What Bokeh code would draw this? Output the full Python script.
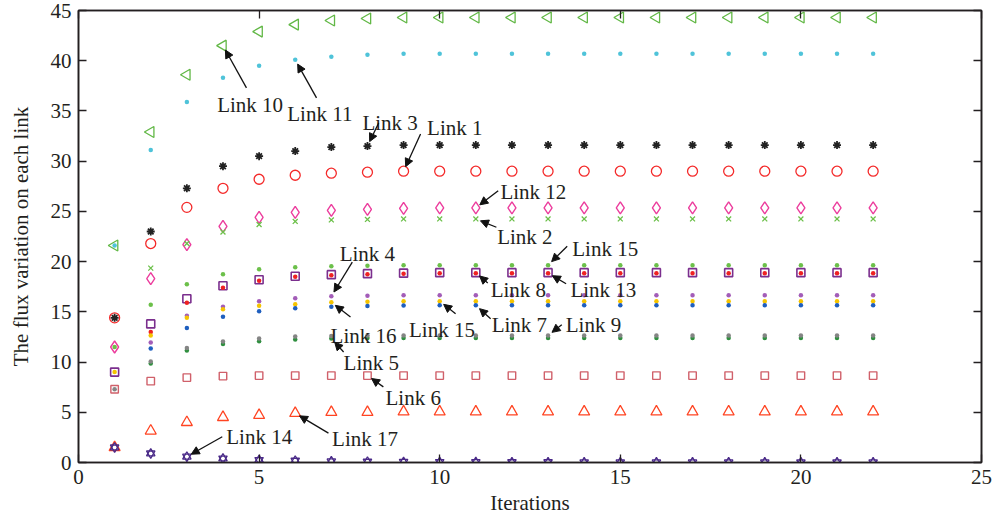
import math
from bokeh.plotting import figure
from bokeh.models import Range1d, LinearAxis, FixedTicker, ColumnDataSource, Arrow, NormalHead
from bokeh.core.properties import value
from bokeh.embed import file_html
from bokeh.resources import INLINE

nan = float("nan")

# ---------------- data ----------------
iterations = list(range(1, 23))
x_ticks = [0, 5, 10, 15, 20, 25]
y_ticks = [0, 5, 10, 15, 20, 25, 30, 35, 40, 45]

link1 = [14.4, 21.8, 25.4, 27.3, 28.2, 28.6, 28.8, 28.9, 29.0, 29.0, 29.0, 29.0, 29.0, 29.0, 29.0, 29.0, 29.0, 29.0, 29.0, 29.0, 29.0, 29.0]
link2 = [nan, 19.35, 21.8, 22.95, 23.7, 24.0, 24.15, 24.2, 24.25, 24.25, 24.25, 24.25, 24.25, 24.25, 24.25, 24.25, 24.25, 24.25, 24.25, 24.25, 24.25, 24.25]
link3 = [14.4, 23.0, 27.3, 29.5, 30.5, 31.0, 31.4, 31.5, 31.6, 31.6, 31.6, 31.6, 31.6, 31.6, 31.6, 31.6, 31.6, 31.6, 31.6, 31.6, 31.6, 31.6]
link4 = [nan, 11.95, 14.6, 15.5, 16.05, 16.35, 16.55, 16.6, 16.65, 16.65, 16.65, 16.65, 16.65, 16.65, 16.65, 16.65, 16.65, 16.65, 16.65, 16.65, 16.65, 16.65]
link5 = [nan, 9.85, 11.15, 11.8, 12.07, 12.25, 12.35, 12.4, 12.4, 12.4, 12.4, 12.4, 12.4, 12.4, 12.4, 12.4, 12.4, 12.4, 12.4, 12.4, 12.4, 12.4]
link6 = [7.3, 8.1, 8.45, 8.6, 8.65, 8.65, 8.65, 8.65, 8.65, 8.65, 8.65, 8.65, 8.65, 8.65, 8.65, 8.65, 8.65, 8.65, 8.65, 8.65, 8.65, 8.65]
link7 = [nan, 11.35, 13.4, 14.5, 15.05, 15.35, 15.5, 15.57, 15.62, 15.65, 15.65, 15.65, 15.65, 15.65, 15.65, 15.65, 15.65, 15.65, 15.65, 15.65, 15.65, 15.65]
link8 = [9.0, 13.8, 16.3, 17.6, 18.2, 18.55, 18.7, 18.8, 18.85, 18.9, 18.9, 18.9, 18.9, 18.9, 18.9, 18.9, 18.9, 18.9, 18.9, 18.9, 18.9, 18.9]
link9 = [7.3, 10.05, 11.4, 12.05, 12.35, 12.55, 12.6, 12.65, 12.65, 12.65, 12.65, 12.65, 12.65, 12.65, 12.65, 12.65, 12.65, 12.65, 12.65, 12.65, 12.65, 12.65]
link10 = [21.6, 32.9, 38.6, 41.5, 42.9, 43.6, 44.0, 44.2, 44.3, 44.3, 44.3, 44.3, 44.3, 44.3, 44.3, 44.3, 44.3, 44.3, 44.3, 44.3, 44.3, 44.3]
link11 = [21.6, 31.1, 35.9, 38.3, 39.5, 40.1, 40.4, 40.6, 40.7, 40.7, 40.7, 40.7, 40.7, 40.7, 40.7, 40.7, 40.7, 40.7, 40.7, 40.7, 40.7, 40.7]
link12 = [11.5, 18.3, 21.7, 23.5, 24.4, 24.9, 25.1, 25.2, 25.3, 25.35, 25.35, 25.35, 25.35, 25.35, 25.35, 25.35, 25.35, 25.35, 25.35, 25.35, 25.35, 25.35]
link13 = [nan, 13.0, 15.9, 17.4, 18.1, 18.5, 18.65, 18.75, 18.8, 18.85, 18.85, 18.85, 18.85, 18.85, 18.85, 18.85, 18.85, 18.85, 18.85, 18.85, 18.85, 18.85]
link14 = [1.5, 0.9, 0.58, 0.4, 0.25, 0.18, 0.12, 0.08, 0.06, 0.05, 0.04, 0.03, 0.03, 0.02, 0.02, 0.02, 0.02, 0.02, 0.02, 0.02, 0.02, 0.02]
link15 = [11.5, 15.7, 17.75, 18.75, 19.25, 19.45, 19.55, 19.6, 19.65, 19.65, 19.65, 19.65, 19.65, 19.65, 19.65, 19.65, 19.65, 19.65, 19.65, 19.65, 19.65, 19.65]
link16 = [9.0, 12.65, 14.4, 15.25, 15.6, 15.75, 15.95, 16.0, 16.05, 16.05, 16.05, 16.05, 16.05, 16.05, 16.05, 16.05, 16.05, 16.05, 16.05, 16.05, 16.05, 16.05]
link17 = [1.5, 3.15, 4.0, 4.5, 4.7, 4.9, 5.0, 5.0, 5.05, 5.05, 5.05, 5.05, 5.05, 5.05, 5.05, 5.05, 5.05, 5.05, 5.05, 5.05, 5.05, 5.05]

series = {
    "link1": link1, "link2": link2, "link3": link3, "link4": link4, "link5": link5,
    "link6": link6, "link7": link7, "link8": link8, "link9": link9, "link10": link10,
    "link11": link11, "link12": link12, "link13": link13, "link14": link14,
    "link15": link15, "link16": link16, "link17": link17,
}

# annotation labels: text, label anchor (data units), arrow tail (data units), target series, target iteration
ann_text = ["Link 10", "Link 11", "Link 3", "Link 1", "Link 12", "Link 2", "Link 15", "Link 8", "Link 13",
            "Link 15", "Link 7", "Link 9", "Link 4", "Link 16", "Link 5", "Link 6", "Link 17", "Link 14"]
ann_x = [3.84, 5.78, 7.86, 9.65, 11.68, 11.59, 13.67, 11.41, 13.62, 9.15, 11.44, 13.49, 7.23, 6.98, 7.34, 8.5, 7.02, 4.09]
ann_y = [35.6, 34.7, 33.8, 33.3, 26.9, 22.42, 21.3, 17.13, 17.13, 13.16, 13.65, 13.65, 20.77, 12.59, 9.91, 6.41, 2.3, 2.56]
tail_x = [4.65, 6.59, 8.31, 9.47, 11.62, 11.57, 13.53, 11.33, 13.5, 10.44, 11.41, 13.38, 7.58, 7.53, 7.34, 8.44, 6.92, 3.98]
tail_y = [37.3, 36.3, 33.8, 32.7, 27.06, 23.42, 21.53, 17.86, 17.8, 14.82, 14.32, 13.72, 19.94, 14.48, 11.0, 7.53, 2.93, 2.56]
ann_series = ["link10", "link11", "link3", "link1", "link12", "link2", "link15", "link8", "link13",
              "link16", "link7", "link9", "link4", "link16", "link5", "link6", "link17", "link14"]
ann_iter = [4, 6, 8, 9, 11, 11, 13, 11, 13, 10, 11, 13, 7, 7, 7, 8, 6, 3]

# ---------------- layout ----------------
W, H = 994, 522
B_LEFT, B_RIGHT, B_TOP, B_BOTTOM = 78, 13, 10, 60
INK = "#231f20"
SERIF = "Liberation Serif"

p = figure(width=W, height=H, x_range=Range1d(0, 25), y_range=Range1d(0, 45),
           output_backend="svg", toolbar_location=None,
           min_border_left=B_LEFT, min_border_right=B_RIGHT,
           min_border_top=B_TOP, min_border_bottom=B_BOTTOM,
           x_axis_label="Iterations", y_axis_label="The flux variation on each link")
p.xgrid.visible = False
p.ygrid.visible = False
p.outline_line_color = INK
p.outline_line_width = 1.5
p.background_fill_color = "white"
p.border_fill_color = "white"

bottom_ax = p.below[0]
left_ax = p.left[0]
right_ax = LinearAxis()
top_ax = LinearAxis()
p.add_layout(right_ax, "right")
p.add_layout(top_ax, "above")


def style_axis(ax, ticks, show_labels):
    ax.ticker = FixedTicker(ticks=ticks)
    ax.major_tick_in = 8
    ax.major_tick_out = 0
    ax.minor_tick_in = 0
    ax.minor_tick_out = 0
    ax.axis_line_color = INK
    ax.axis_line_width = 1.6
    ax.major_tick_line_color = INK
    ax.major_tick_line_width = 1.3
    ax.major_label_text_font = SERIF
    ax.major_label_text_color = INK
    ax.axis_label_text_font = SERIF
    ax.axis_label_text_font_style = "normal"
    ax.axis_label_text_font_size = "21px"
    ax.axis_label_text_color = INK
    if show_labels:
        ax.major_label_text_font_size = "21px"
        ax.major_label_standoff = 7
    else:
        ax.major_label_text_font_size = "1px"
        ax.major_label_text_alpha = 0
        ax.major_label_standoff = 0


style_axis(bottom_ax, x_ticks, True)
style_axis(left_ax, y_ticks, True)
style_axis(right_ax, y_ticks, False)
style_axis(top_ax, x_ticks, False)
bottom_ax.axis_label_standoff = 4
left_ax.axis_label_standoff = 15

src = ColumnDataSource(dict(x=iterations, **series))

# hollow markers first
p.scatter("x", "link10", source=src, marker="triangle", angle=math.pi / 2, size=11,
          fill_color=None, line_color="#62b846", line_width=1.3)
p.scatter("x", "link1", source=src, marker="circle", size=10,
          fill_color=None, line_color="#f42a2a", line_width=1.3)
p.scatter("x", "link12", source=src, marker="diamond", size=12,
          fill_color=None, line_color="#ec3d9d", line_width=1.4)
p.scatter("x", "link8", source=src, marker="square", size=8,
          fill_color=None, line_color="#7b2f8e", line_width=1.6)
p.scatter("x", "link6", source=src, marker="square", size=7.5,
          fill_color=None, line_color="#d0606a", line_width=1.4)
p.scatter("x", "link17", source=src, marker="triangle", size=11,
          fill_color=None, line_color="#ff4422", line_width=1.3)
p.scatter("x", "link14", source=src, marker="triangle", size=8.5,
          fill_color=None, line_color="#4a2a88", line_width=1.3)
p.scatter("x", "link14", source=src, marker="inverted_triangle", size=8.5,
          fill_color=None, line_color="#4a2a88", line_width=1.3)
p.scatter("x", "link2", source=src, marker="x", size=7,
          line_color="#6cc04a", line_width=1.3)
p.scatter("x", "link3", source=src, marker="asterisk", size=8,
          line_color="#222222", line_width=1.8)

# dot series
dot_specs = [("link11", "#4fc3d9"), ("link15", "#6cc04a"), ("link13", "#ee2222"),
             ("link4", "#a35db8"), ("link16", "#f5c400"), ("link7", "#1f5fbf"),
             ("link5", "#2f8f3f"), ("link9", "#858585")]
for name, col in dot_specs:
    p.scatter("x", name, source=src, marker="circle", size=4.5,
              fill_color=col, line_color=None)

# annotations
frame_w = W - B_LEFT - B_RIGHT
frame_h = H - B_TOP - B_BOTTOM
sx = frame_w / 25.0
sy = frame_h / 45.0
GAP = 5.0
head_x, head_y = [], []
for s, it, tx, ty in zip(ann_series, ann_iter, tail_x, tail_y):
    px, py = it, series[s][it - 1]
    dx, dy = (tx - px) * sx, (ty - py) * sy
    d = math.hypot(dx, dy)
    head_x.append(px + dx / d * GAP / sx)
    head_y.append(py + dy / d * GAP / sy)

arrow_src = ColumnDataSource(dict(x0=tail_x, y0=tail_y, x1=head_x, y1=head_y))
p.add_layout(Arrow(source=arrow_src, x_start="x0", y_start="y0", x_end="x1", y_end="y1",
                   line_color="#111111", line_width=1.3,
                   end=NormalHead(size=8, fill_color="#111111", line_color="#111111", line_width=1)))

p.text(x=ann_x, y=ann_y, text=ann_text, text_font=value(SERIF), text_font_size="21px",
       text_color=INK, text_baseline="alphabetic", text_align="left")

open("out.html", "w").write(file_html(p, INLINE))
